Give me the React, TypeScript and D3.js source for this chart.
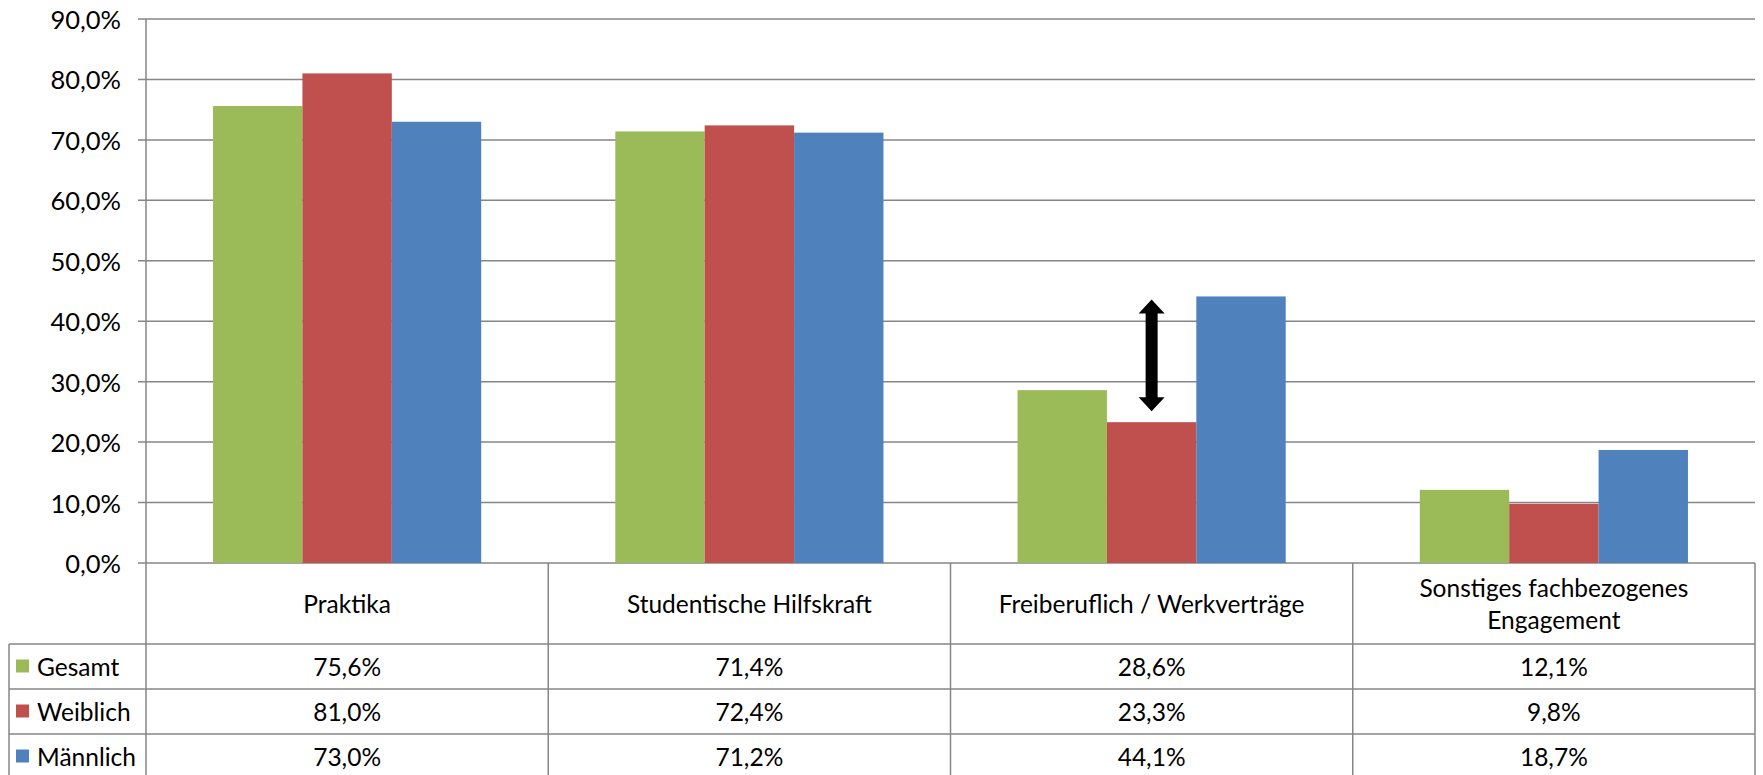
import React from "react";
import * as d3 from "d3";

const categories = [
  ["Praktika"],
  ["Studentische Hilfskraft"],
  ["Freiberuflich / Werkverträge"],
  ["Sonstiges fachbezogenes", "Engagement"],
];
const seriesNames = ["Gesamt", "Weiblich", "Männlich"];
const seriesColors = ["#9BBB59", "#C0504D", "#4F81BD"];
const gesamt = [75.6, 71.4, 28.6, 12.1];
const weiblich = [81.0, 72.4, 23.3, 9.8];
const maennlich = [73.0, 71.2, 44.1, 18.7];
const yTicks = [0, 10, 20, 30, 40, 50, 60, 70, 80, 90];

const W = 1763;
const H = 775;
const left = 146;
const right = 1755;
const top = 19;
const bottom = 563;
const tableLeft = 9;
const headerBottom = 644;
const rowH = 45;
const font = "Lato, 'Open Sans', sans-serif";
const grid = "#868686";
const fs = 24.5;

const fmt = (v: number) => v.toFixed(1).replace(".", ",") + "%";

const App = () => {
  const values = [gesamt, weiblich, maennlich];
  const keys = categories.map((c) => c.join(" "));
  const x0 = d3.scaleBand().domain(keys).range([left, right]);
  const x1 = d3
    .scaleBand()
    .domain(seriesNames)
    .range([0, x0.bandwidth()])
    .paddingOuter(0.75);
  const y = d3.scaleLinear().domain([0, 90]).range([bottom, top]);

  // arrow between Weiblich and Männlich for Freiberuflich
  const ai = 2;
  const ax = (x0(keys[ai]) as number) + (x1("Weiblich") as number) + x1.bandwidth() / 2;
  const aTop = y(maennlich[ai]) + 3;
  const aBot = y(weiblich[ai]) - 11;
  const hw = 13;
  const hh = 14;
  const sw = 6;
  const arrow = [
    [ax, aTop],
    [ax + hw, aTop + hh],
    [ax + sw, aTop + hh],
    [ax + sw, aBot - hh],
    [ax + hw, aBot - hh],
    [ax, aBot],
    [ax - hw, aBot - hh],
    [ax - sw, aBot - hh],
    [ax - sw, aTop + hh],
    [ax - hw, aTop + hh],
  ];

  const rowTops = seriesNames.map((_, i) => headerBottom + i * rowH);

  return (
    <svg
      width={W}
      height={H}
      style={{ position: "absolute", left: 0, top: 0, background: "#fff" }}
      fontFamily={font}
    >
      {/* gridlines + ticks */}
      {yTicks.map((t) => (
        <g key={t}>
          <line x1={left - 8} x2={right} y1={y(t)} y2={y(t)} stroke={grid} strokeWidth={1.5} />
          <text
            x={121}
            y={y(t)}
            textAnchor="end"
            dominantBaseline="central"
            fontSize={25.5}
            fill="#000"
          >
            {fmt(t)}
          </text>
        </g>
      ))}

      {/* bars */}
      {keys.map((k, ci) =>
        seriesNames.map((s, si) => (
          <rect
            key={k + s}
            x={(x0(k) as number) + (x1(s) as number)}
            y={y(values[si][ci])}
            width={x1.bandwidth()}
            height={bottom - y(values[si][ci])}
            fill={seriesColors[si]}
          />
        ))
      )}

      {/* axis line */}
      <line x1={left} x2={left} y1={top} y2={H} stroke={grid} strokeWidth={1.5} />

      {/* table lines */}
      {keys.map((k) => (
        <line
          key={k}
          x1={(x0(k) as number) + x0.bandwidth()}
          x2={(x0(k) as number) + x0.bandwidth()}
          y1={bottom}
          y2={H}
          stroke={grid}
          strokeWidth={1.5}
        />
      ))}
      <line x1={tableLeft} x2={tableLeft} y1={headerBottom} y2={H} stroke={grid} strokeWidth={1.5} />
      {rowTops.map((ry) => (
        <line key={ry} x1={tableLeft} x2={right} y1={ry} y2={ry} stroke={grid} strokeWidth={1.5} />
      ))}

      {/* category headers */}
      {categories.map((lines, ci) => {
        const cx = (x0(keys[ci]) as number) + x0.bandwidth() / 2;
        const cy = (bottom + headerBottom) / 2;
        const lh = 32;
        return (
          <text key={ci} textAnchor="middle" fontSize={fs} fill="#000">
            {lines.map((l, li) => (
              <tspan
                key={li}
                x={cx}
                y={cy + (li - (lines.length - 1) / 2) * lh}
                dominantBaseline="central"
              >
                {l}
              </tspan>
            ))}
          </text>
        );
      })}

      {/* table rows */}
      {seriesNames.map((s, si) => {
        const cy = rowTops[si] + rowH / 2;
        return (
          <g key={s}>
            <rect x={16} y={cy - 7} width={13} height={13} fill={seriesColors[si]} />
            <text x={37} y={cy} dominantBaseline="central" fontSize={fs} fill="#000">
              {s}
            </text>
            {keys.map((k, ci) => (
              <text
                key={k}
                x={(x0(k) as number) + x0.bandwidth() / 2}
                y={cy}
                textAnchor="middle"
                dominantBaseline="central"
                fontSize={fs}
                fill="#000"
              >
                {fmt(values[si][ci])}
              </text>
            ))}
          </g>
        );
      })}

      {/* arrow annotation */}
      <polygon points={arrow.map((p) => p.join(",")).join(" ")} fill="#000" />
    </svg>
  );
};

export default App;
